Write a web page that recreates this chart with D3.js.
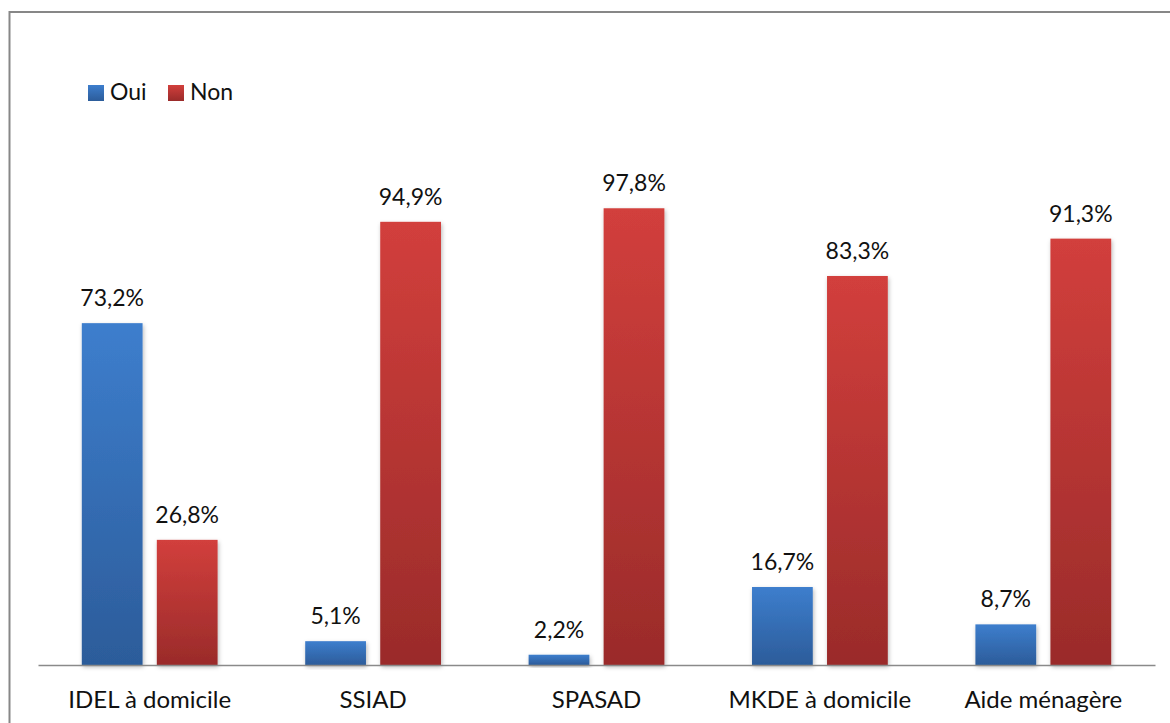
<!DOCTYPE html>
<html>
<head>
<meta charset="utf-8">
<script src="https://cdn.jsdelivr.net/npm/d3@7/dist/d3.min.js"></script>
<style>
  html, body { margin: 0; padding: 0; background: #fff; }
  svg { display: block; font-family: Lato, "Open Sans", sans-serif; }
</style>
</head>
<body>
<svg id="chart" width="1170" height="723"></svg>
<script>
// Recours aux services à domicile (en %)
const categories = ["IDEL à domicile", "SSIAD", "SPASAD", "MKDE à domicile", "Aide ménagère"];
const series = ["Oui", "Non"];
const ouiValues = [73.2, 5.1, 2.2, 16.7, 8.7];
const nonValues = [26.8, 94.9, 97.8, 83.3, 91.3];

const seriesValues = { Oui: ouiValues, Non: nonValues };
const colors = {
  Oui: { top: "#3d7ecd", bottom: "#2c5c9a" },
  Non: { top: "#d23f3c", bottom: "#9a2b2a" }
};

const svg = d3.select("#chart");
const W = 1170, H = 723;

// Outer frame of the chart area
svg.append("rect")
  .attr("x", 9.5).attr("y", 12)
  .attr("width", W + 10).attr("height", H + 10)
  .attr("fill", "#fff")
  .attr("stroke", "#878787").attr("stroke-width", 2);

const defs = svg.append("defs");
series.forEach(s => {
  const g = defs.append("linearGradient")
    .attr("id", "grad-" + s)
    .attr("x1", 0).attr("y1", 0).attr("x2", 0).attr("y2", 1);
  g.append("stop").attr("offset", "0%").attr("stop-color", colors[s].top);
  g.append("stop").attr("offset", "100%").attr("stop-color", colors[s].bottom);
});
const shadow = defs.append("filter").attr("id", "shadow")
  .attr("x", "-20%").attr("y", "-20%").attr("width", "140%").attr("height", "140%");
shadow.append("feDropShadow")
  .attr("dx", 1).attr("dy", 2).attr("stdDeviation", 2)
  .attr("flood-color", "#000").attr("flood-opacity", 0.28);

const plot = { left: 38, right: 1155, baseline: 665, top100: 198 };

const x0 = d3.scaleBand()
  .domain(categories)
  .range([plot.left, plot.right])
  .paddingInner(0).paddingOuter(0);

const x1 = d3.scaleBand()
  .domain(series)
  .range([0, x0.bandwidth()])
  .paddingInner(0.19)
  .paddingOuter(0.584);

const y = d3.scaleLinear().domain([0, 100]).range([plot.baseline, plot.top100]);

const rows = categories.map((c, i) => ({
  category: c,
  values: series.map(s => ({ series: s, value: seriesValues[s][i] }))
}));

const fmt = v => d3.format(".1f")(v).replace(".", ",") + "%";

const groups = svg.append("g").selectAll("g")
  .data(rows).join("g")
  .attr("transform", d => `translate(${x0(d.category)},0)`);

groups.selectAll("rect")
  .data(d => d.values).join("rect")
  .attr("x", d => x1(d.series))
  .attr("y", d => y(d.value))
  .attr("width", x1.bandwidth())
  .attr("height", d => y(0) - y(d.value))
  .attr("fill", d => `url(#grad-${d.series})`)
  .attr("filter", "url(#shadow)");

groups.selectAll("text.val")
  .data(d => d.values).join("text")
  .attr("class", "val")
  .attr("x", d => x1(d.series) + x1.bandwidth() / 2)
  .attr("y", d => y(d.value) - 17)
  .attr("text-anchor", "middle")
  .attr("font-size", 23)
  .attr("fill", "#111")
  .text(d => fmt(d.value));

// Category axis
const xAxis = svg.append("g")
  .attr("transform", `translate(0,${plot.baseline})`)
  .call(d3.axisBottom(x0).tickSize(0).tickPadding(0));
xAxis.select(".domain").attr("stroke", "#8a8a8a").attr("stroke-width", 1.5);
xAxis.selectAll("text")
  .attr("font-size", 24)
  .attr("font-family", "Lato, 'Open Sans', sans-serif")
  .attr("fill", "#111")
  .attr("dy", 0)
  .attr("y", 43);

// Legend
const legendItems = [
  { series: "Oui", x: 88, textX: 110 },
  { series: "Non", x: 168, textX: 190 }
];
const legend = svg.append("g");
legendItems.forEach(it => {
  legend.append("rect")
    .attr("x", it.x).attr("y", 85)
    .attr("width", 16).attr("height", 16)
    .attr("fill", `url(#grad-${it.series})`);
  legend.append("text")
    .attr("x", it.textX).attr("y", 100)
    .attr("font-size", 23)
    .attr("fill", "#111")
    .text(it.series);
});
</script>
</body>
</html>
